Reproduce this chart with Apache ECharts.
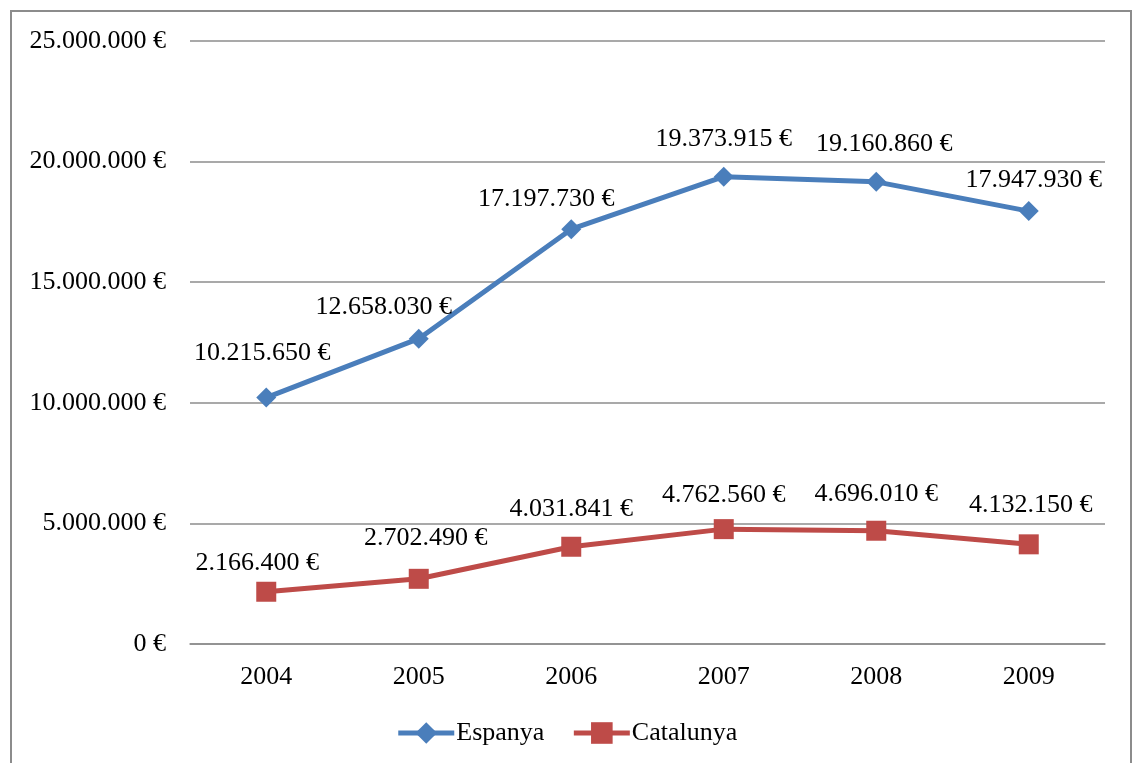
<!DOCTYPE html>
<html>
<head>
<meta charset="utf-8">
<script src="https://cdn.jsdelivr.net/npm/echarts@6/dist/echarts.min.js"></script>
<style>
  html, body { margin: 0; padding: 0; background: #fff; }
  #chart { width: 1133px; height: 763px; }
</style>
</head>
<body>
<div id="chart"></div>
<script>
const years = ['2004', '2005', '2006', '2007', '2008', '2009']
const espanya = [10215650, 12658030, 17197730, 19373915, 19160860, 17947930]
const catalunya = [2166400, 2702490, 4031841, 4762560, 4696010, 4132150]

// label nudges, roughly where Excel put them
const espanyaOffsets = [[-4, -6], [-35, 6], [-25, 8], [0, 0], [8, 0], [5, 7]]
const catalunyaOffsets = [[-9, 9], [7, -3], [0, 0], [0, 4], [0, 1], [2, -1]]

const FONT = "'Liberation Serif', 'Times New Roman', serif"

function euro(v) {
  return String(v).replace(/\B(?=(\d{3})+(?!\d))/g, '.') + ' €'
}

function withOffsets(values, offsets) {
  return values.map((v, i) => ({ value: v, label: { offset: offsets[i] } }))
}

const chart = echarts.init(document.getElementById('chart'))
chart.setOption({
  animation: false,
  textStyle: { fontFamily: FONT },
  graphic: [{
    type: 'rect',
    shape: { x: 11, y: 11, width: 1120, height: 800 },
    style: { fill: 'none', stroke: '#8c8c8c', lineWidth: 2 },
    silent: true
  }],
  grid: { left: 190, right: 28, top: 41, bottom: 119 },
  legend: {
    bottom: 12,
    left: 'center',
    itemWidth: 56,
    itemHeight: 27,
    itemGap: 27,
    lineStyle: { width: 5 },
    textStyle: { fontFamily: FONT, fontSize: 26, color: '#000', padding: [0, 0, 0, -3] },
    data: ['Espanya', 'Catalunya']
  },
  xAxis: {
    type: 'category',
    data: years,
    boundaryGap: true,
    axisLine: { lineStyle: { color: '#8c8c8c', width: 1.5 } },
    axisTick: { show: false },
    axisLabel: { fontFamily: FONT, fontSize: 26, color: '#000', margin: 20 }
  },
  yAxis: {
    type: 'value',
    min: 0,
    max: 25000000,
    interval: 5000000,
    axisLine: { show: false },
    axisTick: { show: false },
    splitLine: { lineStyle: { color: '#8c8c8c', width: 1.5 } },
    axisLabel: {
      fontFamily: FONT, fontSize: 26, color: '#000', margin: 24,
      formatter: euro
    }
  },
  series: [
    {
      name: 'Espanya',
      type: 'line',
      data: withOffsets(espanya, espanyaOffsets),
      symbol: 'diamond',
      symbolSize: 20,
      lineStyle: { color: '#4a7ebb', width: 5 },
      itemStyle: { color: '#4a7ebb' },
      label: {
        show: true,
        position: 'top',
        distance: 15,
        fontFamily: FONT,
        fontSize: 26,
        color: '#000',
        formatter: p => euro(p.value)
      }
    },
    {
      name: 'Catalunya',
      type: 'line',
      data: withOffsets(catalunya, catalunyaOffsets),
      symbol: 'rect',
      symbolSize: 20,
      lineStyle: { color: '#be4b48', width: 5 },
      itemStyle: { color: '#be4b48' },
      label: {
        show: true,
        position: 'top',
        distance: 15,
        fontFamily: FONT,
        fontSize: 26,
        color: '#000',
        formatter: p => euro(p.value)
      }
    }
  ]
})
</script>
</body>
</html>
